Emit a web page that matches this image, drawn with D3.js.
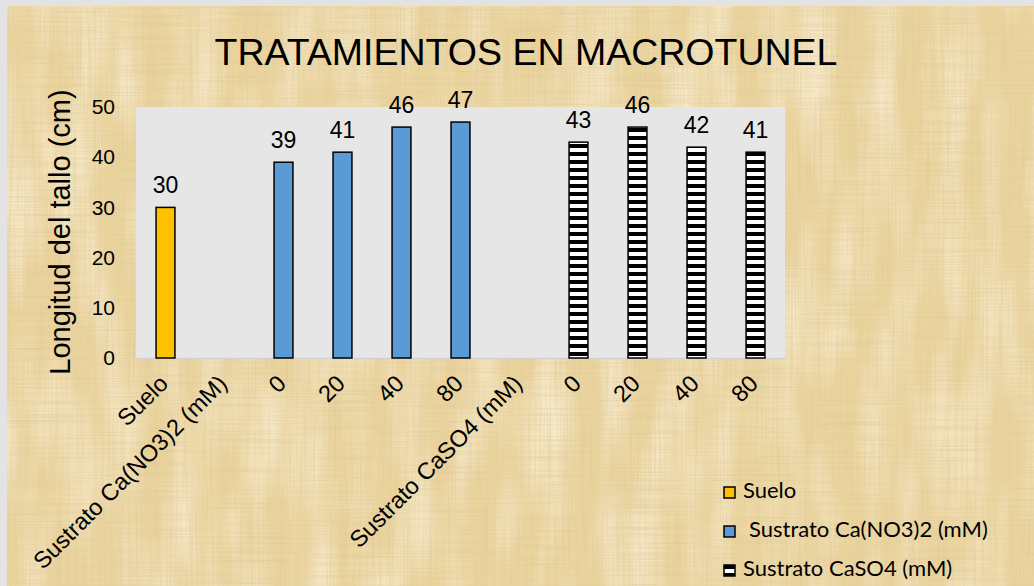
<!DOCTYPE html>
<html>
<head>
<meta charset="utf-8">
<script src="https://cdnjs.cloudflare.com/ajax/libs/d3/7.8.5/d3.min.js"></script>
<style>
  body { margin: 0; background: #fff; }
  svg text { font-family: "Liberation Sans", Arial, sans-serif; fill: #000; }
  .legende text { font-family: Lato, "Open Sans", sans-serif; }
</style>
</head>
<body>
<div id="graf"></div>
<script>
// données
var categories = ["Suelo", "Sustrato Ca(NO3)2 (mM)", "0", "20", "40", "80", "Sustrato CaSO4 (mM)", "0", "20", "40", "80"];
var valeurs = [30, null, 39, 41, 46, 47, null, 43, 46, 42, 41];
var serieDeBarre = [0, -1, 1, 1, 1, 1, -1, 2, 2, 2, 2];
var series = ["Suelo", "Sustrato Ca(NO3)2 (mM)", "Sustrato CaSO4 (mM)"];
var couleurs = ["#ffc000", "#5b9bd5", "url(#rayures)"];
var yTicks = [0, 10, 20, 30, 40, 50];

var w = 1034, h = 586;

var svg = d3.select("#graf").append("svg")
    .attr("width", w)
    .attr("height", h);

var defs = svg.append("defs");

// texture papyrus : fibres horizontales + verticales, taches claires
var f = defs.append("filter").attr("id", "papyrus")
    .attr("x", 0).attr("y", 0).attr("width", 1).attr("height", 1);
f.append("feTurbulence").attr("type", "fractalNoise").attr("baseFrequency", "0.01 0.6")
    .attr("numOctaves", 2).attr("seed", 4).attr("result", "t1");
f.append("feColorMatrix").attr("in", "t1").attr("type", "matrix")
    .attr("values", "0 0 0 0 0.72  0 0 0 0 0.58  0 0 0 0 0.3  1.2 0 0 0 -0.5")
    .attr("result", "c1");
f.append("feTurbulence").attr("type", "fractalNoise").attr("baseFrequency", "0.6 0.01")
    .attr("numOctaves", 2).attr("seed", 9).attr("result", "t2");
f.append("feColorMatrix").attr("in", "t2").attr("type", "matrix")
    .attr("values", "0 0 0 0 0.72  0 0 0 0 0.58  0 0 0 0 0.3  1.2 0 0 0 -0.5")
    .attr("result", "c2");
f.append("feTurbulence").attr("type", "fractalNoise").attr("baseFrequency", "0.03 0.008")
    .attr("numOctaves", 2).attr("seed", 2).attr("result", "t3");
f.append("feColorMatrix").attr("in", "t3").attr("type", "matrix")
    .attr("values", "0 0 0 0 1  0 0 0 0 0.93  0 0 0 0 0.76  1.2 0 0 0 -0.45")
    .attr("result", "c3");
var fm = f.append("feMerge");
fm.append("feMergeNode").attr("in", "SourceGraphic");
fm.append("feMergeNode").attr("in", "c3");
fm.append("feMergeNode").attr("in", "c1");
fm.append("feMergeNode").attr("in", "c2");

// motif rayé
var pat = defs.append("pattern").attr("id", "rayures")
    .attr("patternUnits", "userSpaceOnUse")
    .attr("width", 8).attr("height", 8);
pat.append("rect").attr("width", 8).attr("height", 8).attr("fill", "#fff");
pat.append("rect").attr("width", 8).attr("height", 4).attr("fill", "#000");

svg.append("rect").attr("width", w).attr("height", h).attr("fill", "#e3e3e3");
svg.append("rect").attr("x", 7).attr("y", 6).attr("width", w - 7).attr("height", h - 6)
    .attr("fill", "#ebd49e")
    .attr("filter", "url(#papyrus)");

var marge = {gauche: 136, droite: 785, haut: 107, bas: 358};

var x = d3.scaleBand()
    .domain(d3.range(categories.length))
    .range([marge.gauche, marge.droite])
    .paddingInner(0.68)
    .paddingOuter(0.34);

var y = d3.scaleLinear()
    .domain([0, 50])
    .range([marge.bas, marge.haut]);

// zone de tracé
svg.append("rect")
    .attr("x", marge.gauche).attr("y", marge.haut)
    .attr("width", marge.droite - marge.gauche)
    .attr("height", marge.bas - marge.haut)
    .attr("fill", "#e6e6e6");

// axe y
var axeY = svg.append("g")
    .attr("transform", "translate(" + marge.gauche + ",0)")
    .call(d3.axisLeft(y).tickValues(yTicks).tickSize(0).tickPadding(21));
axeY.select(".domain").remove();
axeY.attr("font-family", null);
axeY.selectAll("text").style("font-size", "21px");

// axe x
var axeX = svg.append("g")
    .attr("transform", "translate(0," + marge.bas + ")")
    .call(d3.axisBottom(x).tickSize(0).tickFormat(function(i) { return categories[i]; }));
axeX.attr("font-family", null);
axeX.select(".domain").attr("stroke", "#d2d2d2").attr("stroke-width", 1.5);
axeX.selectAll("text")
    .style("font-size", "23.5px")
    .attr("text-anchor", "end")
    .attr("dy", 0)
    .attr("y", 0)
    .attr("transform", "translate(4,27) rotate(-45)");

// barres
var donnees = valeurs.map(function(v, i) { return {i: i, v: v, s: serieDeBarre[i]}; })
    .filter(function(d) { return d.v != null; });

svg.append("g").attr("class", "barres")
    .selectAll("rect")
    .data(donnees)
    .enter().append("rect")
    .attr("x", function(d) { return x(d.i); })
    .attr("y", function(d) { return y(d.v); })
    .attr("width", x.bandwidth())
    .attr("height", function(d) { return y(0) - y(d.v); })
    .attr("fill", function(d) { return couleurs[d.s]; })
    .attr("stroke", "#000")
    .attr("stroke-width", 1.5);

// étiquettes
svg.append("g").attr("class", "etiquettes")
    .selectAll("text")
    .data(donnees)
    .enter().append("text")
    .attr("x", function(d) { return x(d.i) + x.bandwidth() / 2; })
    .attr("y", function(d) { return y(d.v) - 14; })
    .attr("text-anchor", "middle")
    .style("font-size", "23px")
    .text(function(d) { return d.v; });

// titre
svg.append("text")
    .attr("x", 526).attr("y", 65)
    .attr("text-anchor", "middle")
    .style("font-size", "37.5px")
    .text("TRATAMIENTOS EN MACROTUNEL");

// titre axe y
svg.append("text")
    .attr("transform", "translate(70,232) rotate(-90)")
    .attr("text-anchor", "middle")
    .style("font-size", "29px")
    .text("Longitud del tallo (cm)");

// légende
var leg = svg.append("g").attr("class", "legende")
    .attr("transform", "translate(724,487)");
var item = leg.selectAll("g")
    .data(series)
    .enter().append("g")
    .attr("transform", function(d, i) { return "translate(0," + (i * 39) + ")"; });
item.append("rect")
    .attr("width", 11).attr("height", 11)
    .attr("fill", function(d, i) { return couleurs[i]; })
    .attr("stroke", "#000").attr("stroke-width", 1.5);
item.append("text")
    .attr("x", function(d, i) { return i == 1 ? 25 : 19; })
    .attr("y", 11)
    .style("font-size", "22px")
    .text(function(d) { return d; });
</script>
</body>
</html>
